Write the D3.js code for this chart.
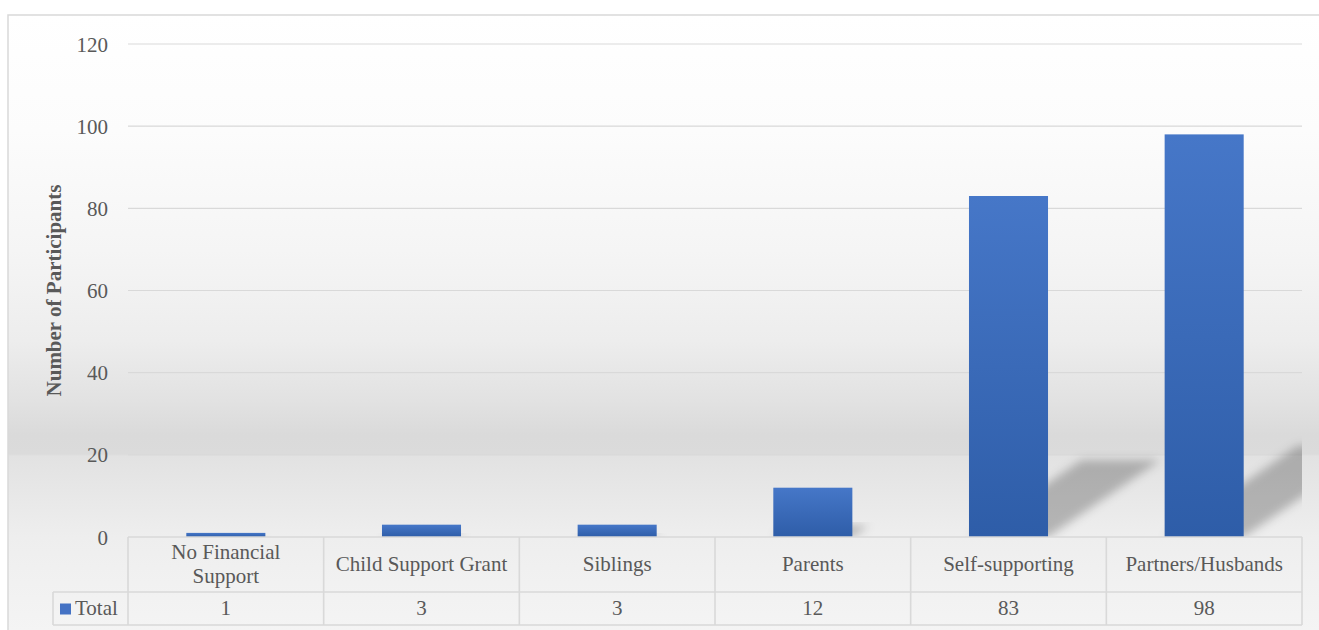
<!DOCTYPE html>
<html>
<head>
<meta charset="utf-8">
<script src="https://cdn.jsdelivr.net/npm/d3@7"></script>
<style>
  html, body { margin: 0; padding: 0; background: #ffffff; }
  svg { display: block; }
  text { font-family: "Liberation Serif", "Times New Roman", serif; fill: #595959; }
</style>
</head>
<body>
<svg id="chart" width="1319" height="630"></svg>
<script>
// Sources of financial support (count of participants)
const categories = ["No Financial\nSupport", "Child Support Grant", "Siblings", "Parents", "Self-supporting", "Partners/Husbands"];
const values = [1, 3, 3, 12, 83, 98];
const seriesName = "Total";
const yTicks = [0, 20, 40, 60, 80, 100, 120];
const yTitle = "Number of Participants";

const W = 1319, H = 630;
const plot = { left: 128, right: 1302, top: 44, bottom: 537 };
const table = { keyLeft: 53, headerBottom: 592, valueBottom: 625 };
const gridColor = "#d9d9d9";
const fontSize = 21;

const svg = d3.select("#chart");
const defs = svg.append("defs");

// chart area background: light at top, darker band near the base of the plot
const bg = defs.append("linearGradient")
  .attr("id", "bgGrad").attr("gradientUnits", "userSpaceOnUse")
  .attr("x1", 0).attr("y1", 15).attr("x2", 0).attr("y2", H);
[[15, "#ffffff"], [130, "#fcfcfc"], [250, "#f5f5f5"], [340, "#ededed"], [400, "#e2e2e2"],
 [435, "#dadada"], [454, "#dbdbdb"], [456, "#e2e2e2"], [537, "#eeeeee"], [630, "#f4f4f4"]]
  .forEach(([y, c]) => bg.append("stop").attr("offset", (y - 15) / (H - 15)).attr("stop-color", c));

// bar fill: vertical gradient per bar
const barGrad = defs.append("linearGradient")
  .attr("id", "barGrad").attr("x1", 0).attr("y1", 0).attr("x2", 0).attr("y2", 1);
barGrad.append("stop").attr("offset", 0).attr("stop-color", "#4677c8");
barGrad.append("stop").attr("offset", 1).attr("stop-color", "#2e5da8");

// soft shadow
const blur = defs.append("filter").attr("id", "shadowBlur")
  .attr("x", "-30%").attr("y", "-30%").attr("width", "160%").attr("height", "160%");
blur.append("feGaussianBlur").attr("stdDeviation", 5);

defs.append("clipPath").attr("id", "plotClip")
  .append("rect")
  .attr("x", plot.left).attr("y", plot.top - 5)
  .attr("width", plot.right - plot.left).attr("height", plot.bottom - plot.top + 5);

// background + frame
svg.append("rect")
  .attr("x", 8).attr("y", 15).attr("width", W + 10).attr("height", H)
  .attr("fill", "url(#bgGrad)")
  .attr("stroke", gridColor).attr("stroke-width", 1.5);

// scales
const x = d3.scaleBand()
  .domain(d3.range(categories.length))
  .range([plot.left, plot.right])
  .paddingInner(0.596).paddingOuter(0.298);
const xCol = d3.scaleBand()
  .domain(d3.range(categories.length))
  .range([plot.left, plot.right]);
const y = d3.scaleLinear().domain([0, 120]).range([plot.bottom, plot.top]);

// gridlines and tick labels
const yAxis = d3.axisLeft(y).tickValues(yTicks).tickSize(0).tickPadding(20);
const gAxis = svg.append("g").attr("transform", `translate(${plot.left},0)`).call(yAxis);
gAxis.select(".domain").remove();
gAxis.selectAll("text")
  .attr("font-size", fontSize)
  .attr("font-family", "Liberation Serif, Times New Roman, serif")
  .attr("fill", "#595959")
  .attr("dy", "0.34em");

svg.append("g").selectAll("line")
  .data(yTicks.filter(t => t > 0))
  .join("line")
  .attr("x1", plot.left).attr("x2", plot.right)
  .attr("y1", d => y(d)).attr("y2", d => y(d))
  .attr("stroke", gridColor).attr("stroke-width", 1.2);

// perspective shadows cast to the upper right of each bar
const shadowRise = 0.226, shadowRun = 0.33;
svg.append("g").attr("clip-path", "url(#plotClip)")
  .selectAll("polygon")
  .data(values)
  .join("polygon")
  .attr("points", (d, i) => {
    const x0 = x(i), x1 = x(i) + x.bandwidth();
    const h = y(0) - y(d);
    const base = y(0);
    return [[x0, base], [x1, base],
            [x1 + shadowRun * h, base - shadowRise * h],
            [x0 + shadowRun * h, base - shadowRise * h]].map(p => p.join(",")).join(" ");
  })
  .attr("fill", "#000")
  .attr("fill-opacity", 0.24)
  .attr("filter", "url(#shadowBlur)");

// bars
svg.append("g").selectAll("rect")
  .data(values)
  .join("rect")
  .attr("x", (d, i) => x(i))
  .attr("y", d => y(d))
  .attr("width", x.bandwidth())
  .attr("height", d => y(0) - y(d))
  .attr("fill", "url(#barGrad)");

// data table grid
const tbl = svg.append("g").attr("stroke", gridColor).attr("stroke-width", 1.6).attr("fill", "none");
tbl.append("line").attr("x1", plot.left).attr("x2", plot.right).attr("y1", y(0)).attr("y2", y(0));
tbl.append("line").attr("x1", table.keyLeft).attr("x2", plot.right).attr("y1", table.headerBottom).attr("y2", table.headerBottom);
tbl.append("line").attr("x1", table.keyLeft).attr("x2", plot.right).attr("y1", table.valueBottom).attr("y2", table.valueBottom);
tbl.append("line").attr("x1", table.keyLeft).attr("x2", table.keyLeft).attr("y1", table.headerBottom).attr("y2", table.valueBottom);
tbl.selectAll("line.col")
  .data(d3.range(categories.length + 1))
  .join("line").attr("class", "col")
  .attr("x1", i => i < categories.length ? xCol(i) : xCol(i - 1) + xCol.bandwidth())
  .attr("x2", i => i < categories.length ? xCol(i) : xCol(i - 1) + xCol.bandwidth())
  .attr("y1", y(0)).attr("y2", table.valueBottom);

// category headers
const headerMid = (y(0) + table.headerBottom) / 2;
const lineGap = 24;
svg.append("g").selectAll("text")
  .data(categories)
  .join("text")
  .attr("text-anchor", "middle")
  .attr("font-size", fontSize)
  .each(function (d, i) {
    const lines = d.split("\n");
    const cx = xCol(i) + xCol.bandwidth() / 2;
    d3.select(this).selectAll("tspan")
      .data(lines)
      .join("tspan")
      .attr("x", cx)
      .attr("y", (l, j) => headerMid - 1 + (j - (lines.length - 1) / 2) * lineGap)
      .attr("dy", "0.34em")
      .text(l => l);
  });

// values row
const valueMid = (table.headerBottom + table.valueBottom) / 2;
svg.append("g").selectAll("text")
  .data(values)
  .join("text")
  .attr("text-anchor", "middle")
  .attr("font-size", fontSize)
  .attr("x", (d, i) => xCol(i) + xCol.bandwidth() / 2)
  .attr("y", valueMid - 1)
  .attr("dy", "0.34em")
  .text(d => d);

// legend key
svg.append("rect")
  .attr("x", 60).attr("y", valueMid - 5)
  .attr("width", 11).attr("height", 11)
  .attr("fill", "#4472c4");
svg.append("text")
  .attr("x", 75).attr("y", valueMid - 1)
  .attr("dy", "0.34em")
  .attr("font-size", fontSize)
  .text(seriesName);

// axis title
svg.append("text")
  .attr("transform", `translate(61,${(plot.top + plot.bottom) / 2}) rotate(-90)`)
  .attr("text-anchor", "middle")
  .attr("font-size", fontSize)
  .attr("font-weight", "bold")
  .text(yTitle);
</script>
</body>
</html>
